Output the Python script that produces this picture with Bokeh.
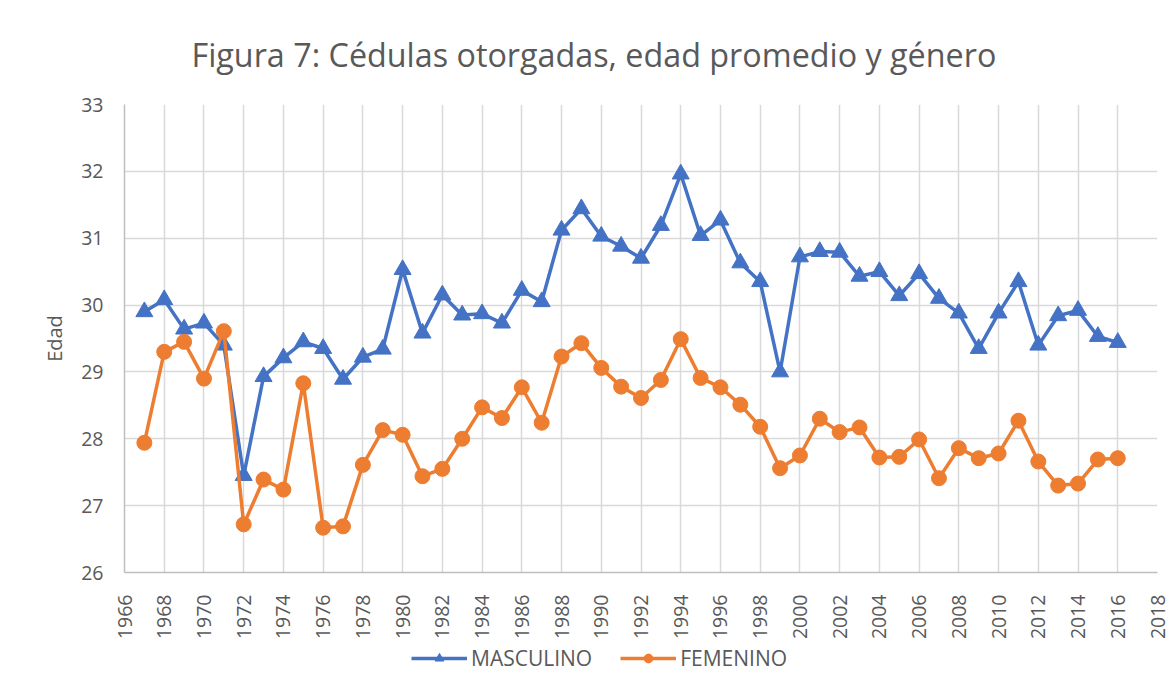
from bokeh.plotting import figure
from bokeh.layouts import column
from bokeh.models import Range1d, SingleIntervalTicker, Legend, LegendItem, ColumnDataSource
from bokeh.embed import file_html
from bokeh.resources import INLINE
import math

years = list(range(1967, 2017))
masculino = [29.90, 30.08, 29.64, 29.73, 29.40, 27.45, 28.93, 29.21, 29.45, 29.35,
             28.89, 29.22, 29.34, 30.53, 29.58, 30.15, 29.85, 29.87, 29.73, 30.22,
             30.05, 31.12, 31.44, 31.03, 30.88, 30.70, 31.19, 31.96, 31.04, 31.27,
             30.63, 30.35, 29.00, 30.72, 30.80, 30.79, 30.43, 30.50, 30.14, 30.47,
             30.10, 29.88, 29.35, 29.88, 30.35, 29.40, 29.84, 29.92, 29.53, 29.44]
femenino = [27.94, 29.30, 29.45, 28.90, 29.61, 26.72, 27.39, 27.24, 28.83, 26.67,
            26.69, 27.61, 28.13, 28.06, 27.44, 27.55, 28.00, 28.47, 28.31, 28.77,
            28.24, 29.23, 29.43, 29.06, 28.78, 28.61, 28.88, 29.49, 28.91, 28.77,
            28.51, 28.18, 27.56, 27.75, 28.30, 28.10, 28.17, 27.72, 27.73, 27.99,
            27.41, 27.86, 27.71, 27.78, 28.27, 27.66, 27.30, 27.33, 27.69, 27.71]

title_text = "Figura 7: Cédulas otorgadas, edad promedio y género"
y_label = "Edad"
series_names = ["MASCULINO", "FEMENINO"]

BLUE = "#4472C4"
ORANGE = "#ED7D31"
GREY_TEXT = "#595959"
FONT = "Open Sans"

src = ColumnDataSource(dict(x=years, m=masculino, f=femenino))

p = figure(frame_width=1033, frame_height=468, output_backend="svg", toolbar_location=None,
           x_range=Range1d(1966, 2018), y_range=Range1d(26, 33),
           min_border_left=124, min_border_right=12, min_border_top=104, min_border_bottom=60)

p.title.text = title_text
p.title.text_font = FONT
p.title.text_font_size = "32.3px"
p.title.text_font_style = "normal"
p.title.text_color = GREY_TEXT
p.title.align = "left"
p.title.offset = 67
p.title.standoff = 58

p.outline_line_color = None
p.xaxis.ticker = SingleIntervalTicker(interval=2, num_minor_ticks=0)
p.yaxis.ticker = SingleIntervalTicker(interval=1, num_minor_ticks=0)
for ax in (p.xaxis, p.yaxis):
    ax.axis_line_color = "#BFBFBF"
    ax.axis_line_width = 1.5
    ax.major_tick_line_color = None
    ax.minor_tick_line_color = None
    ax.major_label_text_font = FONT
    ax.major_label_text_font_size = "19.5px"
    ax.major_label_text_color = GREY_TEXT
p.xaxis.major_label_orientation = math.pi / 2
p.xaxis.major_label_standoff = 16
p.yaxis.major_label_standoff = 15
p.yaxis.axis_label = y_label
p.yaxis.axis_label_text_font = FONT
p.yaxis.axis_label_text_font_size = "20px"
p.yaxis.axis_label_text_font_style = "normal"
p.yaxis.axis_label_text_color = GREY_TEXT
p.yaxis.axis_label_standoff = 10

p.grid.grid_line_color = "#D9D9D9"
p.grid.grid_line_width = 1.5

p.line("x", "m", source=src, line_color=BLUE, line_width=3.5)
p.scatter("x", "m", source=src, marker="triangle", size=17, fill_color=BLUE, line_color=BLUE)
p.line("x", "f", source=src, line_color=ORANGE, line_width=3.5)
p.scatter("x", "f", source=src, marker="circle", size=15, fill_color=ORANGE, line_color=ORANGE)

# legend strip below the chart (its renderers use the same data, outside this strip's view)
p2 = figure(width=1169, height=50, output_backend="svg", toolbar_location=None,
            x_range=Range1d(0, 1), y_range=Range1d(0, 1),
            x_axis_location=None, y_axis_location=None,
            min_border_left=0, min_border_right=0, min_border_top=0, min_border_bottom=0)
p2.outline_line_color = None
p2.grid.visible = False
lm = p2.line("x", "m", source=src, line_color=BLUE, line_width=3.5)
sm = p2.scatter("x", "m", source=src, marker="triangle", size=17, fill_color=BLUE, line_color=BLUE)
lf = p2.line("x", "f", source=src, line_color=ORANGE, line_width=3.5)
sf = p2.scatter("x", "f", source=src, marker="circle", size=15, fill_color=ORANGE, line_color=ORANGE)

legend = Legend(items=[LegendItem(label=series_names[0], renderers=[lm, sm]),
                       LegendItem(label=series_names[1], renderers=[lf, sf])],
                orientation="horizontal", location=(287, 20),
                label_text_font=FONT, label_text_font_size="21px", label_text_color=GREY_TEXT,
                glyph_width=56, glyph_height=22, spacing=28, label_standoff=4,
                padding=0, margin=0,
                border_line_color=None, background_fill_alpha=0)
p2.add_layout(legend, "center")

layout = column(p, p2, spacing=0)
open("out.html", "w").write(file_html(layout, INLINE))
